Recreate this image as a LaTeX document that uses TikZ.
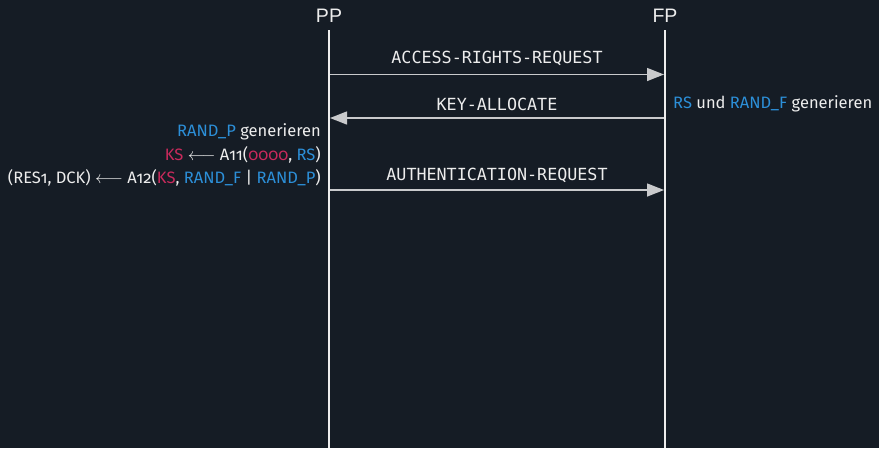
\documentclass[tikz,border=0pt]{standalone}
\usepackage{fontspec}
\setmainfont{Fira Sans}[Numbers=OldStyle]
\newfontfamily\msgfont{DejaVu Sans Mono}
\newfontfamily\headfont{Liberation Sans}
\usetikzlibrary{arrows.meta}
\definecolor{bg}{HTML}{151C25}
\definecolor{fg}{HTML}{EDEDED}
\definecolor{linegray}{HTML}{C9CACC}
\definecolor{keyblue}{HTML}{2C8FD8}
\definecolor{keyred}{HTML}{C92A5C}
\newcommand{\kb}[1]{\textcolor{keyblue}{#1}}
\newcommand{\kr}[1]{\textcolor{keyred}{#1}}
\newcommand{\getsarrow}{\(\longleftarrow\)}
\tikzset{
  party/.style={text=fg, font=\headfont\fontsize{19.5}{19.5}\selectfont, inner sep=0pt},
  lifeline/.style={draw=fg, line width=2.6pt},
  msg/.style={draw=linegray, line width=1.4pt, -{Triangle[length=17pt, width=13pt]}},
  msglabel/.style={text=fg, font=\msgfont\fontsize{16.7}{16.7}\selectfont, inner sep=0pt},
  note/.style={text=fg, font=\fontsize{16.5}{16.5}\selectfont, inner sep=0pt},
}
\begin{document}
\begin{tikzpicture}[x=1pt, y=-1pt]
  \fill[bg] (0,0) rectangle (879,448);
  \useasboundingbox (0,0) rectangle (879,448);

  % parties and lifelines
  \node[party] (pp) at (329,16) {PP};
  \node[party] (fp) at (665,16) {FP};
  \coordinate (pptop) at (329,30);
  \coordinate (ppbot) at (329,448);
  \coordinate (fptop) at (665,30);
  \coordinate (fpbot) at (665,448);
  \draw[lifeline] (pptop) -- (ppbot);
  \draw[lifeline] (fptop) -- (fpbot);

  % messages
  \coordinate (m1a) at (330,74.5);  \coordinate (m1b) at (664,74.5);
  \coordinate (m2a) at (664,118); \coordinate (m2b) at (330,118);
  \coordinate (m3a) at (330,190); \coordinate (m3b) at (664,190);
  \draw[msg] (m1a) -- (m1b);
  \draw[msg] (m2a) -- (m2b);
  \draw[msg] (m3a) -- (m3b);
  \node[msglabel] (l1) at (497,58.5) {ACCESS-RIGHTS-REQUEST};
  \node[msglabel] (l2) at (497,104) {KEY-ALLOCATE};
  \node[msglabel] (l3) at (497,175.5) {AUTHENTICATION-REQUEST};

  % local computations
  \node[note, anchor=base west] (n1) at (673,108) {\kb{RS} und \kb{RAND\_F} generieren};
  \node[note, anchor=base east] (n2) at (321,136) {\kb{RAND\_P} generieren};
  \node[note, anchor=base east] (n3) at (321,160) {\kr{KS} \getsarrow{} A11(\kr{0000}, \kb{RS})};
  \node[note, anchor=base east] (n4) at (321,183) {(RES1, DCK) \getsarrow{} A12(\kr{KS}, \kb{RAND\_F} | \kb{RAND\_P})};
\end{tikzpicture}
\end{document}
